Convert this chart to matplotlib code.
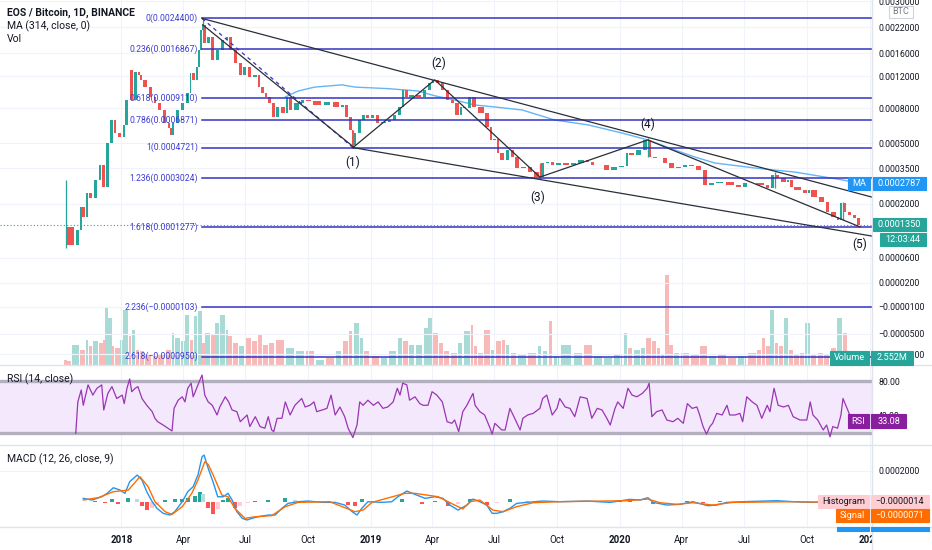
import numpy as np
import matplotlib
matplotlib.use('Agg')
import matplotlib.pyplot as plt
from matplotlib.patches import Rectangle
from matplotlib.lines import Line2D
from matplotlib.transforms import IdentityTransform

plt.rcParams['font.family'] = ['Roboto', 'DejaVu Sans']

W, H = 932, 550
UP, DOWN = '#26a69a', '#ef5350'
TXT = '#131722'
GRID = '#f0f3fa'
BORDER = '#e0e3eb'
FIB = '#3333c2'

# ---------------- data (days counted from 2018-01-01) ----------------
price_day = [-82, -68, -61, -58, -53, -49, -42, -34, -29, -24,
             -17, -12, -7, 1, 5, 10, 12, 17, 23, 27,
             31, 39, 46, 52, 59, 67, 71, 74, 78, 86,
             93, 100, 103, 108, 112, 115, 118, 119, 125, 130,
             137, 144, 152, 156, 163, 171, 177, 184, 191, 199,
             203, 210, 213, 220, 225, 232, 240, 244, 251, 262,
             269, 279, 294, 308, 320, 327, 332, 338, 339, 345,
             352, 357, 364, 371, 379, 389, 396, 404, 411, 415,
             420, 430, 440, 448, 455, 459, 467, 474, 481, 488,
             496, 500, 506, 513, 521, 532, 540, 543, 550, 554,
             562, 569, 576, 584, 594, 603, 613, 620, 628, 635,
             645, 657, 667, 679, 686, 694, 705, 716, 727, 738,
             742, 752, 763, 771, 777, 786, 792, 801, 811, 821,
             830, 840, 850, 859, 869, 884, 899, 909, 918, 928,
             943, 950, 957, 965, 975, 979, 984, 997, 1006, 1009,
             1020, 1031, 1038, 1048, 1052, 1057, 1063, 1070, 1077, 1082]
price_close = [0.000128, 0.000086, 0.000121, 0.000188, 0.000157, 0.000238, 0.000219, 0.000294, 0.000368, 0.000263,
               0.000503, 0.000686, 0.000577, 0.000546, 0.000643, 0.000891, 0.001301, 0.000891, 0.001269, 0.00122,
               0.001148, 0.001051, 0.000926, 0.000857, 0.000783, 0.00066, 0.000617, 0.000562, 0.00066, 0.000783,
               0.000857, 0.000974, 0.00125, 0.001148, 0.00135, 0.001664, 0.002122, 0.00226, 0.001813, 0.00195,
               0.001472, 0.001664, 0.00188, 0.00195, 0.001664, 0.001419, 0.001222, 0.00135, 0.001192, 0.001222,
               0.001051, 0.000974, 0.000926, 0.000857, 0.000714, 0.000814, 0.000753, 0.000926, 0.000783, 0.000857,
               0.000891, 0.00088, 0.000835, 0.000868, 0.000814, 0.000835, 0.000714, 0.000601, 0.000489, 0.000577,
               0.000686, 0.000733, 0.000705, 0.000733, 0.00066, 0.000665, 0.000686, 0.000733, 0.000814, 0.001012,
               0.000926, 0.00095, 0.000926, 0.001012, 0.001106, 0.001148, 0.001106, 0.001012, 0.000891, 0.000857,
               0.000733, 0.000814, 0.0008, 0.000926, 0.000814, 0.000753, 0.000626, 0.000525, 0.00053, 0.000438,
               0.000396, 0.000456, 0.000413, 0.000352, 0.000357, 0.000331, 0.000307, 0.000379, 0.000384, 0.000368,
               0.000379, 0.000368, 0.000379, 0.000396, 0.000384, 0.000368, 0.00037, 0.000342, 0.000357, 0.00036,
               0.000438, 0.000425, 0.000456, 0.000525, 0.000413, 0.00041, 0.000407, 0.000379, 0.000352, 0.000355,
               0.000368, 0.000365, 0.000342, 0.000272, 0.00028, 0.000285, 0.000272, 0.000263, 0.00028, 0.000278,
               0.000272, 0.000259, 0.000317, 0.000303, 0.000285, 0.000295, 0.000263, 0.000251, 0.000238, 0.000251,
               0.000223, 0.000205, 0.000172, 0.000157, 0.000148, 0.000202, 0.000172, 0.000163, 0.000154, 0.000135]

# a few long wicks
wick_day = [-82, 119, 339, 613, 771, 957, 1057]
wick_hi = [0.000294, 0.00244, 0.000601, 0.000379, 0.00054, 0.000331, 0.000205]
wick_lo = [0.00008, 0.002122, 0.000472, 0.000302, 0.000413, 0.000259, 0.000148]
wick_col = [UP, UP, DOWN, DOWN, UP, UP, UP]

# MA (314)
ma_day = [240, 259, 283, 323, 342, 390, 434, 459, 488, 518, 547, 587, 635, 684, 733, 771, 811, 840, 869, 928, 987, 1056, 1082]
ma_val = [0.000926, 0.001, 0.00105, 0.00108, 0.00105, 0.00103, 0.001, 0.00094, 0.000891, 0.000835, 0.000814, 0.000783,
          0.000686, 0.000643, 0.000577, 0.000525, 0.000456, 0.000413, 0.000379, 0.000352, 0.000331, 0.000294, 0.0002787]

# volume, millions
vol_day = [-80, -73, -61, -53, -49, -42, -34, -27, -24, -20,
           -14, -10, -2, 2, 11, 15, 20, 27, 34, 45,
           53, 64, 74, 78, 86, 93, 100, 105, 112, 118,
           122, 130, 137, 144, 152, 156, 163, 171, 181, 191,
           200, 207, 215, 225, 240, 254, 269, 283, 298, 313,
           323, 332, 339, 349, 354, 364, 379, 390, 404, 412,
           420, 430, 442, 449, 456, 464, 471, 481, 493, 500,
           511, 516, 522, 530, 541, 547, 557, 562, 569, 579,
           594, 609, 616, 625, 632, 642, 661, 676, 691, 705,
           720, 735, 742, 749, 760, 767, 776, 784, 789, 796,
           802, 808, 818, 833, 847, 859, 872, 887, 902, 916,
           931, 938, 944, 950, 957, 962, 970, 977, 984, 994,
           1001, 1009, 1019, 1028, 1038, 1048, 1057, 1063, 1071, 1082]
vol_m = [1.8, 1.4, 7.2, 5.4, 9.0, 6.8, 8.6, 7.9, 9.0, 20.5,
         16.9, 6.8, 6.1, 9.0, 19.8, 10.4, 12.6, 5.4, 5.0, 3.6,
         3.2, 3.6, 5.4, 11.5, 9.7, 8.6, 18.0, 9.0, 17.6, 19.4,
         7.9, 11.5, 10.8, 15.1, 18.0, 12.6, 10.4, 7.9, 6.8, 9.7,
         8.6, 10.8, 7.2, 7.9, 9.0, 6.1, 5.0, 5.0, 1.8, 2.5,
         5.0, 8.6, 12.2, 15.1, 9.7, 5.0, 3.2, 2.5, 5.0, 9.7,
         8.6, 7.2, 7.2, 13.3, 16.9, 11.5, 7.9, 5.0, 4.3, 7.9,
         12.2, 14.4, 6.8, 4.3, 12.6, 5.4, 8.6, 9.0, 7.2, 4.3,
         3.6, 4.3, 6.8, 5.0, 15.8, 3.2, 7.2, 4.3, 7.2, 3.2,
         2.5, 3.6, 11.5, 6.1, 5.4, 6.1, 9.7, 8.6, 6.1, 3.6,
         32.4, 7.2, 4.3, 4.3, 3.6, 6.8, 3.2, 3.6, 2.5, 3.2,
         4.3, 5.4, 9.7, 6.8, 19.8, 7.9, 6.8, 16.9, 5.4, 3.6,
         4.3, 15.1, 3.6, 4.3, 3.6, 6.1, 16.9, 11.5, 4.3, 2.552]

# RSI (14)
rsi_day = [-67, -64, -59, -56, -49, -42, -36, -29, -26, -20,
           -14, -7, 1, 4, 8, 12, 15, 20, 24, 30,
           37, 45, 49, 53, 61, 68, 74, 77, 83, 89,
           93, 97, 102, 105, 111, 114, 118, 122, 127, 133,
           140, 144, 152, 157, 162, 169, 174, 184, 188, 196,
           203, 210, 215, 220, 223, 228, 235, 240, 247, 254,
           259, 264, 269, 276, 282, 286, 294, 301, 307, 313,
           320, 327, 332, 339, 345, 349, 354, 361, 369, 376,
           383, 390, 398, 404, 408, 412, 418, 422, 430, 437,
           442, 449, 455, 462, 470, 477, 484, 488, 494, 500,
           506, 511, 515, 518, 525, 532, 540, 543, 547, 552,
           557, 562, 569, 576, 584, 588, 595, 603, 613, 617,
           623, 631, 638, 642, 650, 657, 664, 672, 682, 689,
           697, 704, 711, 716, 723, 727, 735, 742, 748, 755,
           763, 770, 773, 777, 784, 792, 799, 808, 815, 823,
           829, 836, 843, 847, 852, 857, 862, 866, 872, 880,
           887, 891, 899, 906, 910, 916, 924, 931, 938, 946,
           950, 956, 962, 970, 977, 984, 994, 1004, 1009, 1013,
           1020, 1028, 1033, 1038, 1042, 1049, 1054, 1057, 1063, 1070,
           1082]
rsi_val = [19, 56, 70, 52, 76, 64, 72, 76, 46.5, 66,
           74, 60, 64, 54, 72, 83, 68, 72, 74, 60,
           52, 44.5, 36.7, 32.7, 28.8, 25, 21.8, 48.4, 58, 62,
           56, 72, 78, 62, 74, 80, 87.6, 64, 56, 52,
           40.6, 50, 62, 56, 46.5, 44.5, 32.7, 40.6, 27, 38.6,
           27, 25, 38.6, 23, 21, 36.7, 36.7, 56, 40.6, 52,
           56, 60, 50, 52, 56, 44.5, 46.5, 48.4, 64, 40.6,
           50, 38.6, 25, 14, 28.8, 56, 52, 58, 52, 56,
           48.4, 50, 56, 72, 64, 78, 76, 58, 62, 54,
           52, 52, 68, 64, 56, 32.7, 30.8, 34.7, 21, 44.5,
           52, 60, 66, 52, 44.5, 40.6, 25, 18, 30.8, 27,
           23, 23, 48.4, 36.7, 23, 36.7, 40.6, 42.5, 48.4, 60,
           64, 40.6, 48.4, 60, 50, 48.4, 38.6, 62, 60, 36.7,
           48.4, 46.5, 36.7, 28.8, 48.4, 56, 48.4, 72, 64, 62,
           66, 72, 78, 38.6, 44.5, 46.5, 34.7, 32.7, 36.7, 30.8,
           54, 48.4, 50, 40.6, 27, 18, 27, 30.8, 42.5, 40.6,
           52, 40.6, 40.6, 42.5, 32.7, 62, 56, 52, 36.7, 52,
           44.5, 72, 52, 50, 52, 38.6, 34.7, 34.7, 56, 40.6,
           34.7, 23, 28.8, 15, 27, 25, 40.6, 60, 48.4, 34.7,
           33.08]

# MACD (12, 26, 9), values in 1e-6 BTC
macd_day = [-56, -43, -29, -21, -12, -2, 5, 12, 23, 30,
            37, 45, 52, 61, 71, 78, 89, 97, 105, 112,
            118, 121, 127, 134, 141, 149, 156, 162, 169, 177,
            184, 191, 200, 215, 225, 235, 244, 259, 273, 294,
            313, 327, 338, 345, 352, 361, 382, 396, 405, 418,
            430, 445, 459, 471, 481, 493, 506, 515, 525, 535,
            543, 550, 559, 569, 579, 594, 617, 642, 682, 716,
            745, 760, 771, 779, 799, 818, 837, 859, 872, 887,
            910, 960, 984, 1013, 1033, 1057, 1082]
macd_e6 = [21.5, 10.8, 32, 54, 90, 75, 54, 129, 172, 140,
           64.5, 0, -43, -75, -86, -64.5, 0, 64.5, 97, 172,
           290, 301, 215, 129, 32, 32, 54, 10.8, -64.5, -107.5,
           -118, -107.5, -97, -86, -86, -43, -10.8, 0, 4.3, -4.3,
           -4.3, -21.5, -64.5, -86, -43, 0, -4.3, 0, 32, 69,
           47, 21.5, 32, 21.5, -21.5, -54, -21.5, 17, 0, -21.5,
           -75, -75, -64.5, -43, -10.8, -4.3, 4.3, 0, 4.3, -4.3,
           15, 10.8, 26, -4.3, -21.5, -17, 0, -26, -21.5, -4.3,
           0, 6.5, 0, -4.3, 0, 10.8, -8.5]
signal_day = [-56, -34, -12, 10, 27, 39, 49, 64, 74, 89,
              103, 112, 122, 127, 134, 147, 156, 166, 181, 196,
              220, 240, 259, 305, 342, 354, 367, 415, 430, 464,
              488, 500, 511, 525, 544, 559, 579, 603, 642, 741,
              771, 789, 814, 837, 866, 896, 984, 1082]
signal_e6 = [10.8, 26, 64.5, 75, 161, 97, 0, -64.5, -82, -32,
             54, 140, 258, 240, 175, 43, 32, -43, -107.5, -97,
             -90, -32, -4.3, 0, -64.5, -54, -4.3, 54, 54, 32,
             -21.5, -47, 0, 10.8, -54, -64.5, -32, -6.5, 0, 6.5,
             17, -6.5, -17, -6.5, -21.5, -4.3, 0, -7.1]
hist_day = [-49, -39, -24, -14, -5, 10, 23, 30, 37, 45,
            52, 64, 78, 89, 97, 108, 115, 119, 127, 134,
            141, 149, 156, 166, 174, 185, 196, 215, 240, 254,
            273, 332, 342, 352, 371, 411, 430, 440, 459, 478,
            493, 511, 535, 550, 569, 594, 730, 745, 779, 799,
            829, 852, 877, 1057, 1082]
hist_e6 = [-4, 4, -10, 20, -15, 25, 20, -30, -55, -40,
           -20, 8, 15, 20, 25, 35, 65, 50, -40, -80,
           -50, 10, 25, -40, -25, -10, 5, 8, 25, 8,
           5, -20, -30, 15, 5, 15, -5, -12, 5, -25,
           -15, 15, -20, -10, 18, 3, 4, 8, -12, -5,
           4, -10, 3, 4, -1.4]

# Fibonacci retracement
fib_ratio = [0, 0.236, 0.618, 0.786, 1, 1.236, 1.618, 2.236, 2.618]
fib_price = [0.00244, 0.0016867, 0.000911, 0.0006871, 0.0004721, 0.0003024, 0.0001277, -0.0000103, -0.000095]
fib_start, fib_end = 118, 339

# Elliott wave points
wave_day = [339, 459, 613, 771, 1082]
wave_val = [0.000472, 0.00115, 0.000307, 0.000525, 0.000129]
wave_lab = ['(1)', '(2)', '(3)', '(4)', '(5)']
wave_txt_val = [0.000384, 0.001419, 0.000223, 0.000651, 0.000088]
wave_txt_day = [339, 464, 609, 771, 1082]

# channel lines
upper_line = ([118, 1099.5], [0.00244, 0.000223])
lower_line = ([339, 1099.5], [0.000472, 0.000106])

tick_day = [0, 90, 181, 273, 365, 455, 546, 638, 730, 821, 912, 1004, 1096]
tick_lab = ['2018', 'Apr', 'Jul', 'Oct', '2019', 'Apr', 'Jul', 'Oct', '2020', 'Apr', 'Jul', 'Oct', '2021']

price_ticks = [0.003, 0.0022, 0.0016, 0.0012, 0.0008, 0.0005, 0.00035, 0.0002, 0.00006, 0.00002,
               -0.00001, -0.00005, -0.00009]
last_price = 0.000135
XL = (-178, 1099.5)


def fwd(v):
    v = np.asarray(v, dtype=float)
    return np.sign(v) * (np.log10(np.abs(v) + 1e-4) + 4)


def inv(t):
    t = np.asarray(t, dtype=float)
    return np.sign(t) * (10 ** (np.abs(t) - 4) - 1e-4)


def fmt(v):
    return ('%.7f' % v).replace('-', '\u2212')


fig = plt.figure(figsize=(W / 100, H / 100), dpi=100)
PW = 872 / W


def pane(top, bottom):
    return [0, 1 - bottom / H, PW, (bottom - top) / H]


def clean(a):
    for s in a.spines.values():
        s.set_visible(False)
    a.set_xlim(*XL)
    a.set_xticks([])
    a.yaxis.tick_right()
    a.tick_params(axis='y', length=0, pad=4.5, labelsize=6.3, labelcolor=TXT)


# volume underneath the price pane
ax_v = fig.add_axes(pane(0, 365))
clean(ax_v)
ax_v.set_yticks([])
ax_v.set_ylim(0, 131.4)
pd_ = np.array(price_day)
pc_ = np.array(price_close)
vd = np.array(vol_day, dtype=float)
vgap = np.diff(np.r_[vd[0] - 4, vd])
vcol = []
for d in vd:
    i = max(1, min(len(pd_) - 1, np.searchsorted(pd_, d)))
    vcol.append(UP if pc_[i] >= pc_[i - 1] else DOWN)
ax_v.bar(vd - vgap / 2, vol_m, width=vgap * 0.8, color=vcol, alpha=0.4, linewidth=0)

# price pane
ax = fig.add_axes(pane(0, 365))
ax.patch.set_alpha(0)
clean(ax)
ax.set_yscale('function', functions=(fwd, inv))
ax.set_ylim(-0.0001149, 0.003042)
ax.set_yticks(price_ticks)
ax.set_yticklabels([fmt(v) for v in price_ticks])
ax.minorticks_off()
for v in price_ticks:
    ax.axhline(v, color=GRID, lw=0.8, zorder=0)
for d in tick_day:
    ax.axvline(d, color=GRID, lw=0.8, zorder=0)

opens = pc_[:-1]
closes = pc_[1:]
gap = np.diff(pd_)
cen = (pd_[:-1] + pd_[1:]) / 2
ccol = [UP if c >= o else DOWN for o, c in zip(opens, closes)]
lo = np.minimum(opens, closes)
hi = np.maximum(opens, closes)
ax.bar(cen, hi - lo, bottom=lo, width=np.maximum(gap * 0.7, 1.2), color=ccol, linewidth=0, zorder=3)
ax.vlines(wick_day, wick_lo, wick_hi, colors=wick_col, lw=0.9, zorder=3)

ax.plot(ma_day, ma_val, color='#64b5f6', lw=1.0, zorder=2)
ax.axhline(last_price, color=UP, lw=0.8, ls=(0, (1, 2)), zorder=2)

# fibonacci
for r, p in zip(fib_ratio, fib_price):
    ax.plot([fib_start, XL[1]], [p, p], color=FIB, lw=1.1, zorder=4)
    lab = ('%g(%s)' % (r, fmt(p)))
    ax.text(fib_start - 6, p, lab, ha='right', va='center', fontsize=6.2, color='#3d3dd0', zorder=5)
ax.plot([fib_start, fib_end], [fib_price[0], fib_price[4]], color=FIB, lw=0.9, ls=(0, (3, 3)), zorder=4)

# trend / wave lines
LN = '#2a2e39'
ax.plot(*upper_line, color=LN, lw=0.9, zorder=4)
ax.plot(*lower_line, color=LN, lw=0.9, zorder=4)
ax.plot([119, 339], [0.00226, 0.00048], color=LN, lw=0.9, zorder=4)
ax.plot(wave_day, wave_val, color=LN, lw=0.9, zorder=4)
for d, v, s in zip(wave_txt_day, wave_txt_val, wave_lab):
    ax.text(d, v, s, ha='center', va='center', fontsize=8.5, color=TXT, zorder=5)

# RSI pane
ax_r = fig.add_axes(pane(365, 445))
clean(ax_r)
ax_r.set_ylim(5.3, 99.4)
for d in tick_day:
    ax_r.axvline(d, color=GRID, lw=0.8, zorder=0)
ax_r.axhspan(20, 80, color='#f3e8fc', lw=0, zorder=0.5)
ax_r.axhline(80, color='#b3afbf', lw=2.4, zorder=1)
ax_r.axhline(20, color='#b3afbf', lw=2.4, zorder=1)
ax_r.plot(rsi_day, rsi_val, color='#9a35b3', lw=0.9, zorder=2)
ax_r.set_yticks([80, 40])
ax_r.set_yticklabels(['80.00', '40.00'])

# MACD pane
ax_m = fig.add_axes(pane(445, 527))
clean(ax_m)
ax_m.set_ylim(-0.0001632, 0.0003658)
for d in tick_day:
    ax_m.axvline(d, color=GRID, lw=0.8, zorder=0)
ax_m.axhline(0.0002, color=GRID, lw=0.8, zorder=0)
hv = np.array(hist_e6)
hcol = []
for i, v in enumerate(hv):
    prev = hv[i - 1] if i > 0 else 0
    if v >= 0:
        hcol.append('#26a69a' if v >= prev else '#b2dfdb')
    else:
        hcol.append('#ff5252' if v <= prev else '#ffcdd2')
ax_m.bar(hist_day, hv * 1e-6, width=6, color=hcol, linewidth=0, zorder=1)
ax_m.plot(macd_day, np.array(macd_e6) * 1e-6, color='#2196f3', lw=1.0, zorder=2)
ax_m.plot(signal_day, np.array(signal_e6) * 1e-6, color='#ff6d00', lw=1.0, zorder=2)
ax_m.set_yticks([0.0002])
ax_m.set_yticklabels(['0.0002000'])

# time axis
ax_t = fig.add_axes(pane(527, 550))
ax_t.set_axis_off()
ax_t.set_xlim(*XL)
ax_t.set_ylim(0, 1)
for d, s in zip(tick_day, tick_lab):
    ax_t.text(d, 0.45, s, ha='center', va='center', fontsize=7, color=TXT, clip_on=True,
              fontweight='bold' if s.isdigit() else 'normal')

# pane borders
ID = IdentityTransform()
for y in (365, 445, 527):
    fig.add_artist(Line2D([0, W], [H - y, H - y], transform=ID, color=BORDER, lw=1))
fig.add_artist(Line2D([872, 872], [0, H], transform=ID, color=BORDER, lw=1))


def box(x0, x1, yc, h, fc, ec=None):
    fig.add_artist(Rectangle((x0, H - yc - h / 2), x1 - x0, h, transform=ID,
                             facecolor=fc, edgecolor=ec or fc, lw=0.8, zorder=20))


def tag(x0, x1, yc, h, s, fc, tc='white', fs=6.6, ec=None):
    box(x0, x1, yc, h, fc, ec)
    fig.text((x0 + x1) / 2, H - yc, s, transform=ID, ha='center', va='center',
             color=tc, fontsize=fs, zorder=21)


def ypix(a, v):
    return H - a.transData.transform((0, v))[1]


fig.canvas.draw()
tag(889, 913, 12, 12, 'BTC', 'white', tc='#787b86', ec='#d1d4dc')
y_ma = ypix(ax, ma_val[-1])
tag(848, 870, y_ma, 13, 'MA', '#2196f3')
tag(873, 926, y_ma, 13, fmt(ma_val[-1]), '#2196f3')
y_p = ypix(ax, last_price)
tag(873, 926, y_p, 13, fmt(last_price), UP)
tag(880, 926, y_p + 15, 13, '12:03:44', UP)
y_vol = ypix(ax_v, vol_m[-1])
tag(830, 869, y_vol, 14, 'Volume', UP)
tag(871, 913, y_vol, 14, '%.3fM' % vol_m[-1], UP)
y_rsi = ypix(ax_r, rsi_val[-1])
tag(848, 869, y_rsi, 14, 'RSI', '#891f9f')
tag(871, 906, y_rsi, 14, '%.2f' % rsi_val[-1], '#891f9f')
y_h = ypix(ax_m, hist_e6[-1] * 1e-6)
tag(818, 869, y_h, 13, 'Histogram', '#ffcdd2', tc=TXT)
tag(871, 929, y_h, 13, fmt(hist_e6[-1] * 1e-6), '#ffcdd2', tc=TXT)
tag(836, 869, y_h + 14, 13, 'Signal', '#ff6d00')
tag(871, 929, y_h + 14, 13, fmt(signal_e6[-1] * 1e-6), '#ff6d00')
box(837, 869, y_h + 27, 4, '#2196f3')
box(871, 929, y_h + 27, 4, '#2196f3')

# legends
fig.text(7, H - 13, 'EOS / Bitcoin, 1D, BINANCE', transform=ID, va='center', fontsize=7.5,
         fontweight='bold', color=TXT)
fig.text(7, H - 26, 'MA (314, close, 0)', transform=ID, va='center', fontsize=7.5, color=TXT)
fig.text(7, H - 39, 'Vol', transform=ID, va='center', fontsize=7.5, color=TXT)
fig.text(7, H - 379, 'RSI (14, close)', transform=ID, va='center', fontsize=7.5, color=TXT)
fig.text(7, H - 459, 'MACD (12, 26, close, 9)', transform=ID, va='center', fontsize=7.5, color=TXT)

fig.savefig('out.png', dpi=100)
